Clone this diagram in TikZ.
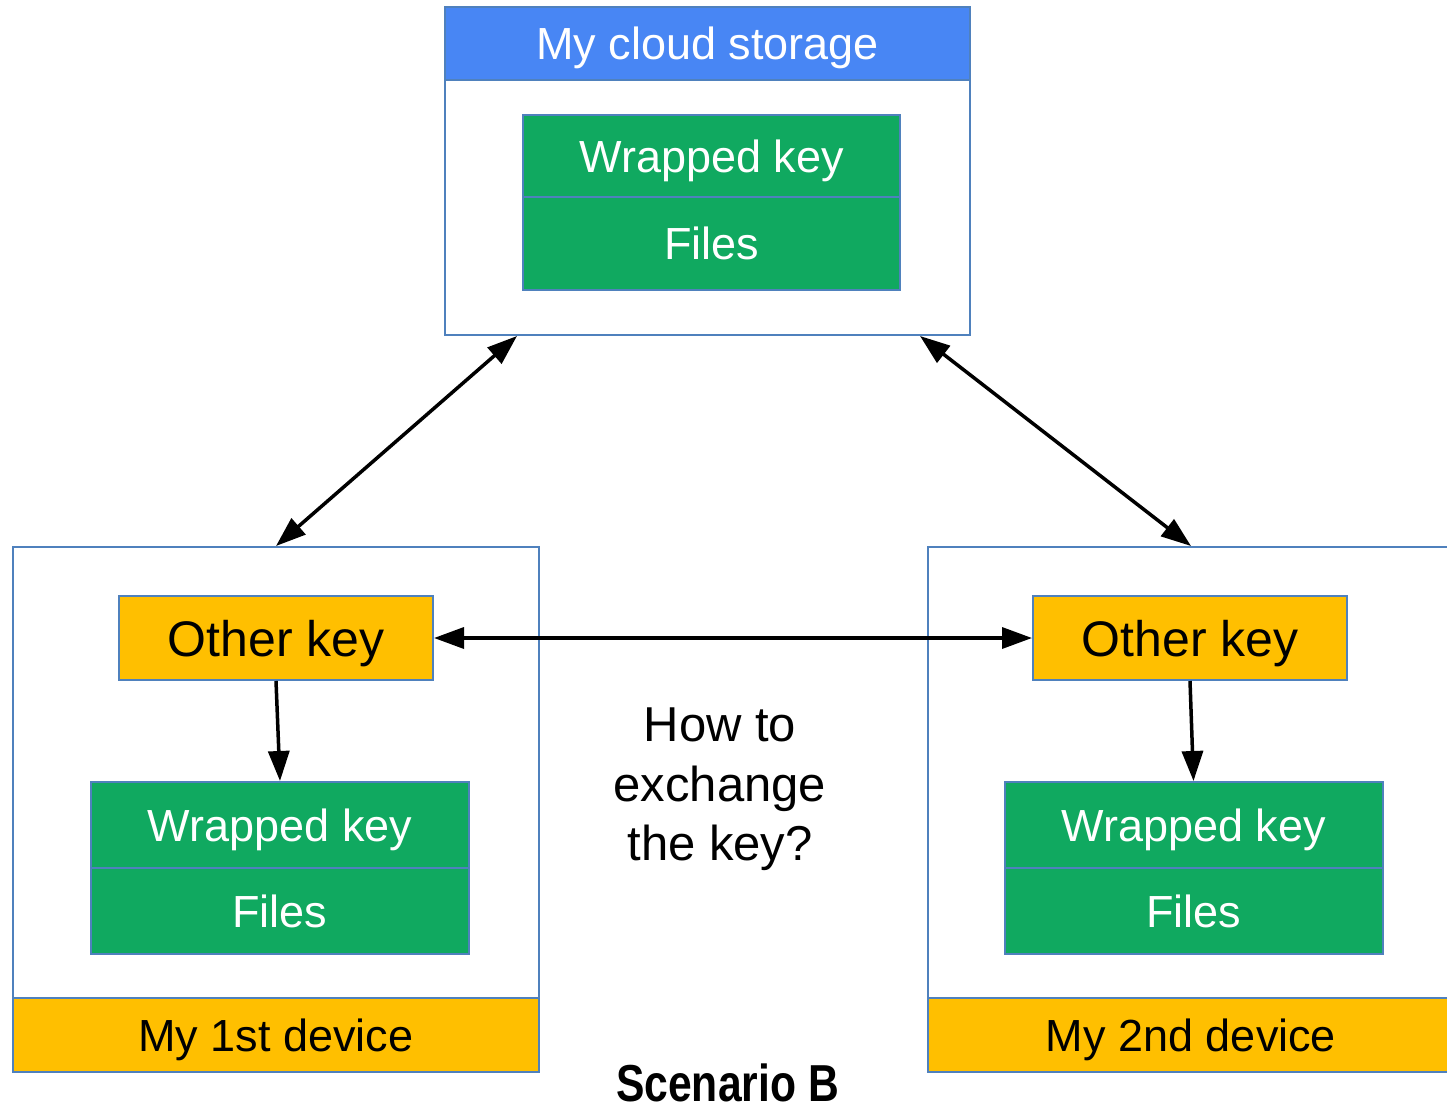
\documentclass[tikz,border=0pt]{standalone}
\usepackage{fontspec}
\setmainfont{Liberation Sans}
\newfontfamily\condfont[FakeStretch=0.82]{Liberation Sans}
\usetikzlibrary{arrows.meta}
\tikzset{>={Triangle[width=21pt,length=30pt]}}
\definecolor{edgeblue}{RGB}{79,129,189}
\definecolor{headblue}{RGB}{72,134,244}
\definecolor{keygreen}{RGB}{16,169,96}
\definecolor{amber}{RGB}{255,191,0}

\begin{document}
\begin{tikzpicture}[x=1pt,y=-1pt]
\tikzstyle{box}=[rectangle,draw=edgeblue,line width=2pt,inner sep=0,text height=32pt,text depth=0pt,font=\fontsize{45}{54}\selectfont]
\tikzstyle{frame}=[box,fill=white,minimum width=526,minimum height=525]
\tikzstyle{bar}=[box,fill=amber,minimum width=526,minimum height=74]
\tikzstyle{okey}=[box,fill=amber,minimum width=314,minimum height=84,text height=36pt,font=\fontsize{50}{60}\selectfont]
\tikzstyle{wkey}=[box,fill=keygreen,text=white,minimum width=378,minimum height=86]
\tikzstyle{link}=[<->,line width=3.5pt]

    \clip (0,0) rectangle (1447,1105);

    % cloud
    \node[box, fill=white, minimum width=525, minimum height=328] (cloud) at (707.5,171){};
    \node[box, fill=headblue, text=white, minimum width=525, minimum height=73] (head) at (707.5,43.5){My cloud storage};
    \node[wkey, minimum width=377, minimum height=82] (wk0) at (711.5,156){Wrapped key};
    \node[wkey, minimum width=377, minimum height=93] (fl0) at (711.5,243.5){Files};

    % 1st device
    \node[frame] (dev1) at (276,809.5){};
    \node[bar] (bar1) at (276,1035){My 1st device};
    \node[okey] (ok1) at (276,638){Other key};
    \node[wkey] (wk1) at (280,825){Wrapped key};
    \node[wkey] (fl1) at (280,911){Files};

    % 2nd device
    \node[frame] (dev2) at (1191,809.5){};
    \node[bar] (bar2) at (1191,1035){My 2nd device};
    \node[okey] (ok2) at (1190,638){Other key};
    \node[wkey] (wk2) at (1193.5,825){Wrapped key};
    \node[wkey] (fl2) at (1193.5,911){Files};

    \node[align=center, anchor=north, inner sep=0, font=\fontsize{49}{59.5}\selectfont] (ask) at (720,708){How to\\exchange\\the key?};
    \node[anchor=base, inner sep=0, text depth=0pt, font=\condfont\bfseries\fontsize{52}{60}\selectfont] (title) at (727.5,1101){Scenario B};

    \draw[link] ([xshift=73pt]cloud.south west) -- (dev1.north);
    \draw[link] ([xshift=-51pt]cloud.south east) -- (dev2.north);
    \draw[link] (ok1.east) -- (ok2.west);
    \draw[->, line width=3.5pt] (ok1.south) -- (wk1.north);
    \draw[->, line width=3.5pt] (ok2.south) -- (wk2.north);

\end{tikzpicture}
\end{document}
